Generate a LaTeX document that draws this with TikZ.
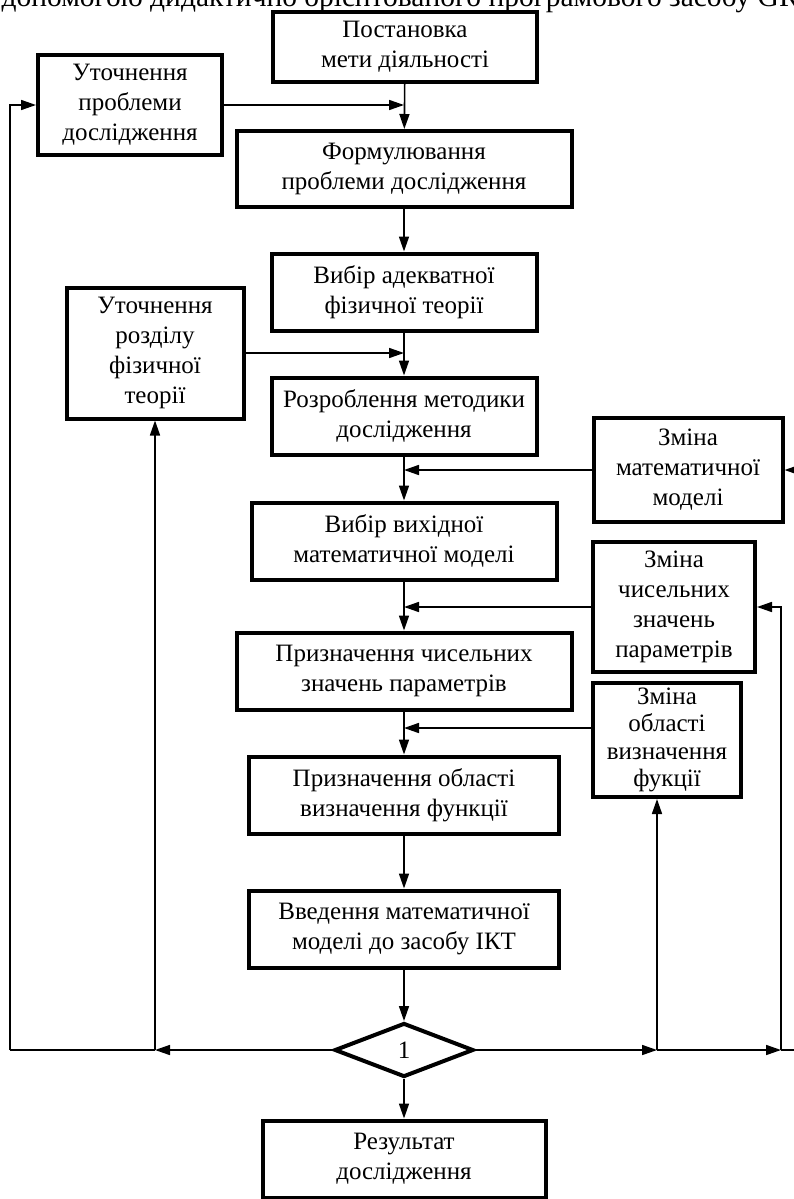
\documentclass[tikz,border=0pt]{standalone}
\usepackage{fontspec}
\setmainfont{Liberation Serif}
\usetikzlibrary{shapes.geometric,arrows.meta}

\begin{document}
\begin{tikzpicture}[x=1pt,y=-1pt,
  box/.style={draw,line width=4pt,align=center,inner sep=0pt,
    font=\fontsize{25}{30}\selectfont},
  link/.style={line width=1.6pt,-{Triangle[length=15pt,width=10pt]}},
  wire/.style={line width=1.6pt}]
\useasboundingbox (0,0) rectangle (794,1199);
\node [anchor=base west,font=\fontsize{29.5}{29.5}\selectfont] (cap) at (-2,7)
  {допомогою дидактично орієнтованого програмового засобу GR};
% main column
\node [box,minimum width=264,minimum height=70] (goal) at (405,47)
  {Постановка\\мети діяльності};
\node [box,minimum width=335,minimum height=76] (form) at (404,169)
  {Формулювання\\проблеми дослідження};
\node [box,minimum width=265,minimum height=77] (theory) at (404,292)
  {Вибір адекватної\\фізичної теорії};
\node [box,minimum width=265,minimum height=77] (method) at (404,416)
  {Розроблення методики\\дослідження};
\node [box,minimum width=305,minimum height=77] (model) at (404,541)
  {Вибір вихідної\\математичної моделі};
\node [box,minimum width=335,minimum height=77] (param) at (404,671)
  {Призначення чисельних\\значень параметрів};
\node [box,minimum width=310,minimum height=77] (domain) at (404,795)
  {Призначення області\\визначення функції};
\node [box,minimum width=310,minimum height=77] (input) at (404,929)
  {Введення математичної\\моделі до засобу ІКТ};
\node [draw,diamond,line width=4pt,aspect=2.6,minimum width=139,
  minimum height=54,inner sep=0pt,font=\fontsize{25}{25}\selectfont] (check) at (404,1050) {1};
\node [box,minimum width=283,minimum height=77] (result) at (404,1159)
  {Результат\\дослідження};
% side boxes
\node [box,minimum width=184,minimum height=100] (refprob) at (130,105)
  {Уточнення\\проблеми\\дослідження};
\node [box,minimum width=177,minimum height=131] (refsect) at (155,353)
  {Уточнення\\розділу\\фізичної\\теорії};
\node [box,minimum width=189,minimum height=104] (chmodel) at (688,470)
  {Зміна\\математичної\\моделі};
\node [box,minimum width=162,minimum height=130] (chparam) at (674,607)
  {Зміна\\чисельних\\значень\\параметрів};
\node [box,minimum width=148,minimum height=114,
  font=\fontsize{25}{27.5}\selectfont] (chdomain) at (667,740)
  {Зміна\\області\\визначення\\фукції};
% points on the main line
\coordinate (j1) at (404,105);
\coordinate (j2) at (404,353);
\coordinate (j3) at (404,470);
\coordinate (j4) at (404,607);
\coordinate (j5) at (404,728);
\coordinate (bl) at (10,1050);
\coordinate (bsect) at (155,1050);
\coordinate (bdomain) at (657,1050);
\coordinate (bparam) at (781,1050);
\coordinate (bmodel) at (812,1050);
% main flow
\draw [link] (goal) -- (form);
\draw [link] (form) -- (theory);
\draw [link] (theory) -- (method);
\draw [link] (method) -- (model);
\draw [link] (model) -- (param);
\draw [link] (param) -- (domain);
\draw [link] (domain) -- (input);
\draw [link] (input) -- (check);
\draw [link] (check) -- (result);
% corrections joining the main line
\draw [link] (refprob.east) -- (j1);
\draw [link] (refsect.east) -- (j2);
\draw [link] (chmodel.west) -- (j3);
\draw [link] (chparam.west) -- (j4);
\draw [link] (chdomain.west |- j5) -- (j5);
% feedback from the check
\draw [link] (check.west) -- (bsect);
\draw [wire] (bsect) -- (bl);
\draw [link] (bl) |- (refprob.west);
\draw [link] (bsect) -- (refsect.south);
\draw [link] (check.east) -- (bdomain);
\draw [link] (bdomain) -- (bparam);
\draw [wire] (bparam) -- (bmodel) -- (812,470);
\draw [link] (812,470) -- (chmodel.east);
\draw [link] (bdomain) -- (bdomain |- chdomain.south);
\draw [link] (bparam) |- (chparam.east);
\end{tikzpicture}
\end{document}
